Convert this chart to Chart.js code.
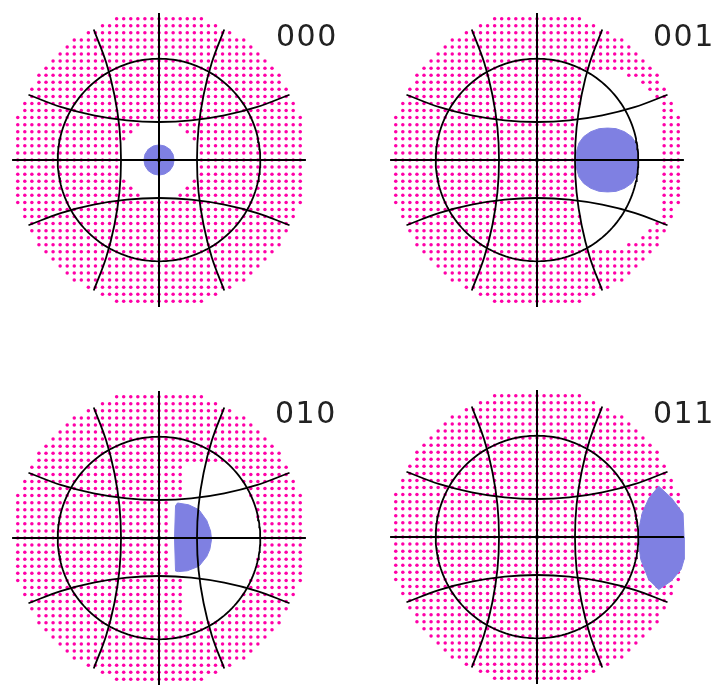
<!DOCTYPE html>
<html>
<head>
<meta charset="utf-8">
<script src="https://cdn.jsdelivr.net/npm/chart.js@4.4.1/dist/chart.umd.min.js"></script>
<style>
html, body { margin: 0; padding: 0; background: #fff; width: 715px; height: 687px; overflow: hidden; }
.panel { position: absolute; width: 310px; height: 310px; }
.label { position: absolute; font-family: "DejaVu Sans"; font-size: 30px; line-height: 30px; letter-spacing: 1.5px; color: #222; }
</style>
</head>
<body>
<canvas id="c000" class="panel" width="310" height="310" style="left:4px;top:5px"></canvas>
<canvas id="c001" class="panel" width="310" height="310" style="left:382px;top:5px"></canvas>
<canvas id="c010" class="panel" width="310" height="310" style="left:4px;top:383px"></canvas>
<canvas id="c011" class="panel" width="310" height="310" style="left:382px;top:382px"></canvas>
<div class="label" style="left:276px;top:21px">000</div>
<div class="label" style="left:653px;top:21px">001</div>
<div class="label" style="left:275px;top:398px">010</div>
<div class="label" style="left:653px;top:398px">011</div>
<script>
// grille de points
const GRID_STEP = 0.05;
const GRID_N = 20;
const DISK_R = 1.05;
const CIRCLE_R = 0.717;
const AXIS_LEN = 1.04;
const VIEW = 1.069;

// courbe, les 4 courbes en sont des rotations
const CURVE_U = [-0.924, -0.69, -0.462, -0.228, 0, 0.228, 0.462, 0.69, 0.924];
const CURVE_V = [-0.462, -0.374, -0.316, -0.28, -0.269, -0.28, -0.316, -0.374, -0.462];

const LABELS = ['000', '001', '010', '011'];

// zones sans points
const WHITE_000 = [[0.275,0],[0.254,0.105],[0.194,0.194],[0.105,0.254],[0,0.275],[-0.105,0.254],[-0.194,0.194],[-0.254,0.105],
  [-0.275,0],[-0.254,-0.105],[-0.194,-0.194],[-0.105,-0.254],[0,-0.275],[0.105,-0.254],[0.194,-0.194],[0.254,-0.105]];
const WHITE_001 = [[0.269,0],[0.28,0.228],[0.316,0.462],[0.35,0.62],[0.6,0.62],[0.76,0.52],[0.85,0.42],[0.88,0.3],[0.88,0],
  [0.88,-0.3],[0.85,-0.42],[0.76,-0.52],[0.6,-0.62],[0.35,-0.62],[0.316,-0.462],[0.28,-0.228]];
const WHITE_010 = [[0.07,0.29],[0.19,0.29],[0.19,0.55],[0.46,0.55],[0.55,0.46],[0.62,0.36],[0.68,0.22],[0.71,0.1],[0.72,0],
  [0.71,-0.1],[0.68,-0.22],[0.62,-0.36],[0.55,-0.46],[0.46,-0.55],[0.19,-0.55],[0.19,-0.29],[0.07,-0.29]];
const WHITE_011 = null;

// zones bleues
const BLUE_000 = [[0.107,0],[0.099,0.041],[0.076,0.076],[0.041,0.099],[0,0.107],[-0.041,0.099],[-0.076,0.076],[-0.099,0.041],
  [-0.107,0],[-0.099,-0.041],[-0.076,-0.076],[-0.041,-0.099],[0,-0.107],[0.041,-0.099],[0.076,-0.076],[0.099,-0.041]];
const BLUE_001 = [[0.44,0.222],[0.5,0.226],[0.56,0.222],[0.62,0.2],[0.67,0.165],[0.7,0.12],[0.714,0.07],[0.717,0],
  [0.714,-0.07],[0.7,-0.12],[0.67,-0.165],[0.62,-0.2],[0.56,-0.222],[0.5,-0.226],[0.44,-0.222],[0.38,-0.2],
  [0.33,-0.165],[0.297,-0.12],[0.28,-0.06],[0.276,0],[0.28,0.06],[0.297,0.12],[0.33,0.165],[0.38,0.2]];
const BLUE_010 = [[0.131,0.248],[0.21,0.235],[0.283,0.2],[0.338,0.124],[0.365,0.05],[0.372,-0.01],[0.36,-0.08],[0.338,-0.131],
  [0.283,-0.2],[0.2,-0.232],[0.138,-0.238],[0.117,-0.234],[0.11,0],[0.117,0.228]];
const BLUE_011 = [[0.862,0.359],[0.952,0.276],[1.034,0.166],[1.041,0],[1.041,-0.159],[1.021,-0.228],[0.952,-0.31],[0.862,-0.372],
  [0.79,-0.3],[0.735,-0.16],[0.72,-0.05],[0.724,0.069],[0.745,0.17],[0.793,0.276]];

const DOT_COLOR = '#ff00a8';
const BLUE_COLOR = 'rgb(127,128,226)';

function dentro(x, y, poly) {
    let inside = false;
    for (let i = 0, j = poly.length - 1; i < poly.length; j = i++) {
        const xi = poly[i][0], yi = poly[i][1], xj = poly[j][0], yj = poly[j][1];
        if (((yi > y) !== (yj > y)) && (x < (xj - xi) * (y - yi) / (yj - yi) + xi)) inside = !inside;
    }
    return inside;
}

function toPts(poly) {
    const pts = poly.map(p => ({ x: p[0], y: p[1] }));
    pts.push({ x: poly[0][0], y: poly[0][1] });
    return pts;
}

function lineDs(data, width, tension) {
    return { type: 'line', data, borderColor: '#000', borderWidth: width, pointRadius: 0, fill: false, tension, order: 0 };
}

function makeChart(id, white, blue) {
    const dots = [];
    for (let i = -GRID_N; i <= GRID_N; i++) {
        for (let j = -GRID_N; j <= GRID_N; j++) {
            const x = i * GRID_STEP, y = j * GRID_STEP;
            if (x * x + y * y > DISK_R * DISK_R + 1e-9) continue;
            if (white && dentro(x, y, white)) continue;
            dots.push({ x, y });
        }
    }

    const circle = [];
    for (let k = 0; k <= 180; k++) {
        const a = k / 180 * 2 * Math.PI;
        circle.push({ x: CIRCLE_R * Math.cos(a), y: CIRCLE_R * Math.sin(a) });
    }

    const left = CURVE_U.map((u, k) => ({ x: CURVE_V[k], y: u }));
    const right = CURVE_U.map((u, k) => ({ x: -CURVE_V[k], y: u }));
    const top = CURVE_U.map((u, k) => ({ x: u, y: -CURVE_V[k] }));
    const bottom = CURVE_U.map((u, k) => ({ x: u, y: CURVE_V[k] }));

    const datasets = [
        lineDs([{ x: -AXIS_LEN, y: 0 }, { x: AXIS_LEN, y: 0 }], 2, 0),
        lineDs([{ x: 0, y: -AXIS_LEN }, { x: 0, y: AXIS_LEN }], 2, 0),
        lineDs(circle, 1.8, 0),
        lineDs(left, 1.8, 0.4),
        lineDs(right, 1.8, 0.4),
        lineDs(top, 1.8, 0.4),
        lineDs(bottom, 1.8, 0.4),
        { type: 'scatter', data: [{ x: 0, y: 0 }], pointRadius: 2, backgroundColor: '#000', borderWidth: 0, order: 0 },
        { type: 'line', data: toPts(blue), borderColor: BLUE_COLOR, borderWidth: 1, backgroundColor: BLUE_COLOR,
          pointRadius: 0, fill: 'shape', tension: 0, order: 1 },
        { type: 'scatter', data: dots, pointRadius: 1.75, backgroundColor: DOT_COLOR, borderWidth: 0, order: 2 }
    ];

    const ctx = document.getElementById(id).getContext('2d');
    return new Chart(ctx, {
        type: 'scatter',
        data: { datasets },
        options: {
            responsive: false,
            animation: false,
            events: [],
            layout: { padding: 0 },
            plugins: { legend: { display: false }, tooltip: { enabled: false } },
            scales: {
                x: { type: 'linear', min: -VIEW, max: VIEW, display: false },
                y: { type: 'linear', min: -VIEW, max: VIEW, display: false }
            }
        }
    });
}

makeChart('c000', WHITE_000, BLUE_000);
makeChart('c001', WHITE_001, BLUE_001);
makeChart('c010', WHITE_010, BLUE_010);
makeChart('c011', WHITE_011, BLUE_011);
</script>
</body>
</html>
